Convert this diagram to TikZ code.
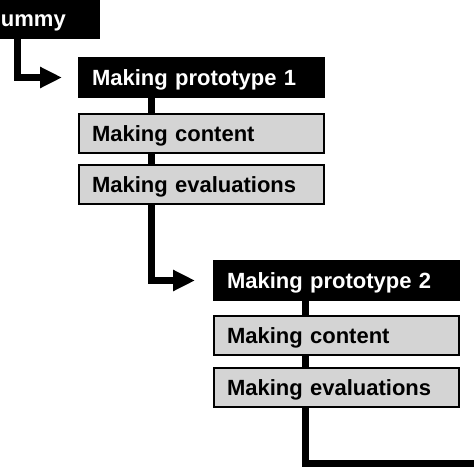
\documentclass[tikz,border=0pt]{standalone}
\usepackage{fontspec}
\setmainfont{Liberation Sans}
\usetikzlibrary{arrows.meta}

\tikzset{
  stagebox/.style={rectangle, draw=black, line width=2pt, fill=black, text=white,
    font=\fontsize{22}{26}\selectfont\bfseries, minimum height=39pt,
    inner xsep=13pt, inner ysep=0pt, text width=219pt, align=left,
    text height=20pt, text depth=4pt, anchor=north west},
  taskbox/.style={stagebox, fill=black!17, text=black},
  link/.style={line width=7pt},
  flow/.style={link, -{Triangle[length=22pt,width=20pt]}},
}

\begin{document}
\begin{tikzpicture}[x=1pt,y=-1pt]
  \fill[white] (0,0) rectangle (474,474);
  \clip (0,0) rectangle (474,474);
  \node[stagebox, text width=85pt] (dummy) at (-13,-2) {ummy};
  \node[stagebox] (proto1) at (78,57) {Making prototype 1};
  \node[taskbox] (content1) at (78,113) {Making content};
  \node[taskbox] (eval1) at (78,164) {Making evaluations};
  \node[stagebox] (proto2) at (213,260) {Making prototype 2};
  \node[taskbox] (content2) at (213,315) {Making content};
  \node[taskbox] (eval2) at (213,367) {Making evaluations};
  \coordinate (spine0) at (17.5,0);
  \coordinate (spine1) at (151,0);
  \coordinate (spine2) at (305,0);
  \coordinate (out) at (480,463);
  \draw[flow, shorten >=16pt] (dummy.south -| spine0) |- (proto1.west);
  \draw[link] (proto1.south -| spine1) -- (content1.north -| spine1);
  \draw[link] (content1.south -| spine1) -- (eval1.north -| spine1);
  \draw[flow, shorten >=18pt] (eval1.south -| spine1) |- (proto2.west);
  \draw[link] (proto2.south -| spine2) -- (content2.north -| spine2);
  \draw[link] (content2.south -| spine2) -- (eval2.north -| spine2);
  \draw[link] (eval2.south -| spine2) |- (out);
\end{tikzpicture}
\end{document}
